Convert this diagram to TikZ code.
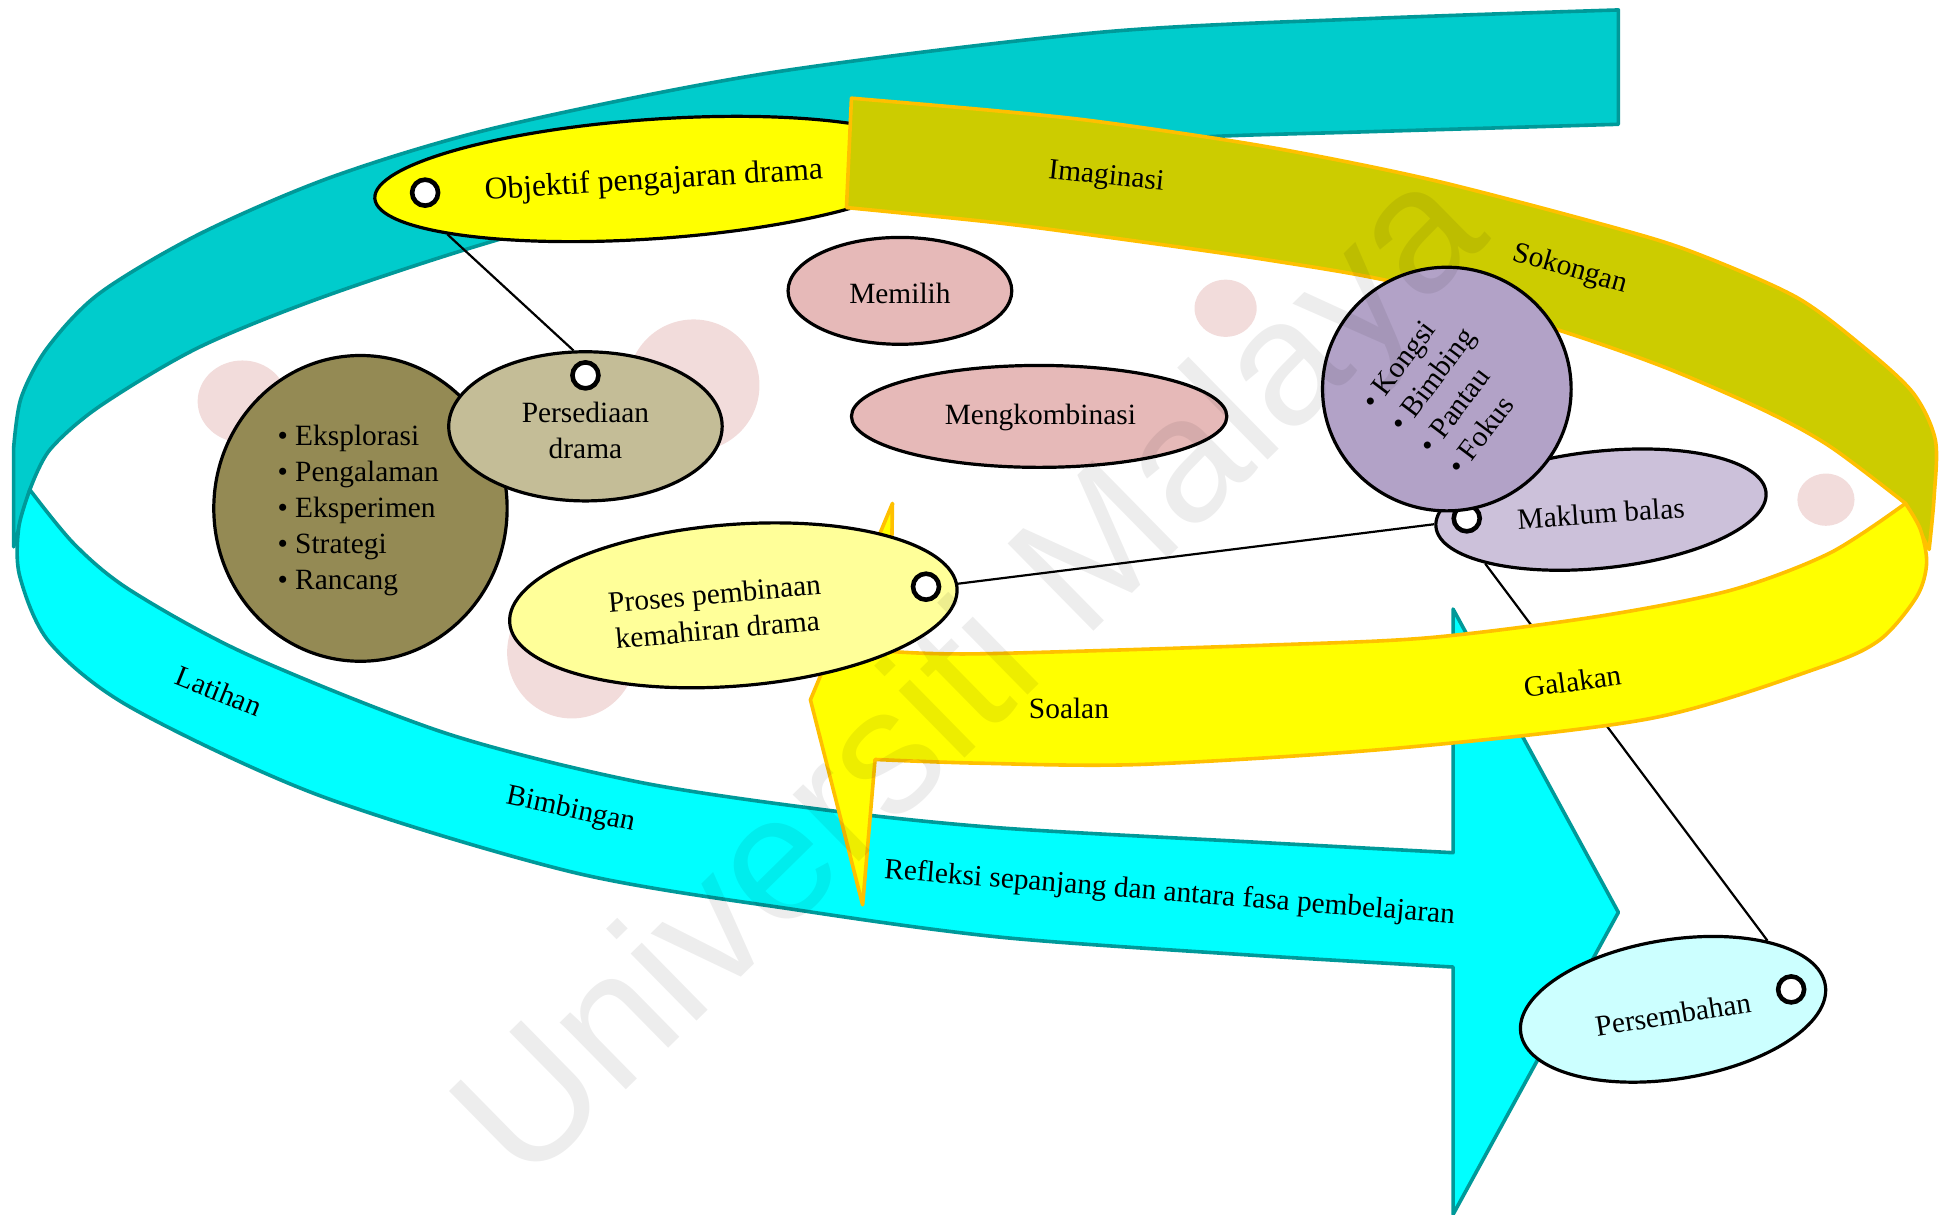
\documentclass[tikz,border=0pt]{standalone}
\usepackage{fontspec}
\setmainfont{Liberation Serif}
\newfontfamily\markfont{Liberation Sans}
\usetikzlibrary{shapes.geometric}

\pgfdeclarelayer{rear}
\pgfdeclarelayer{wires}
\pgfsetlayers{rear,wires,main}

\definecolor{tealband}{HTML}{00CCCC}
\definecolor{tealedge}{HTML}{009999}
\definecolor{cyanband}{HTML}{00FFFF}
\definecolor{oliveband}{HTML}{CCCC00}
\definecolor{yellowband}{HTML}{FFFF00}
\definecolor{bandedge}{HTML}{FFC000}
\definecolor{goalfill}{HTML}{FFFF00}
\definecolor{prepfill}{HTML}{C4BD97}
\definecolor{listfill}{HTML}{948A54}
\definecolor{pinkfill}{HTML}{E6B9B8}
\definecolor{purplefill}{HTML}{B2A2C7}
\definecolor{lilacfill}{HTML}{CCC1DA}
\definecolor{procfill}{HTML}{FFFF99}
\definecolor{showfill}{HTML}{CCFFFF}
\definecolor{logopink}{HTML}{F2DCDB}

\tikzset{
  oval/.style={ellipse, draw=black, line width=1.6pt, inner sep=0pt},
  osize/.style 2 args={minimum width={#1*0.6215pt}, minimum height={#2*0.6215pt}},
  ring/.style={circle, draw=black, fill=white, line width=2.3pt, inner sep=0pt, minimum size=13pt},
  word/.style={inner sep=0pt, font=\fontsize{14.7}{18}\selectfont},
  link/.style={draw=black, line width=1.1pt},
  spot/.style={ellipse, fill=logopink, inner sep=0pt},
  band/.style={line width=1.8pt, line join=round},
}

\begin{document}
\begin{tikzpicture}[x=0.6215pt, y=-0.6215pt]
\useasboundingbox (0,0) rectangle (1568,977);

\begin{pgfonlayer}{rear}
% faint logo spots
\node[spot, osize={72}{66}] (s1) at (195,323) {};
\node[spot, osize={106}{106}] (s2) at (558,310) {};
\node[spot, osize={104}{106}] (s3) at (460,525) {};
\node[spot, osize={50}{46}] (s4) at (986,248) {};
\node[spot, osize={46}{42}] (s5) at (1469,402) {};

% back ribbon
\draw[band, draw=tealedge, fill=tealband] (1302,8)
  -- plot[smooth] coordinates {(1302,8) (1100,15) (885,26) (617,59) (402,102) (268,142) (161,188) (80,236) (38,280) (17,320) (11,360)}
  -- (11,440) -- (24,394)
  -- plot[smooth] coordinates {(24,394) (40,362) (80,327) (161,279) (268,236) (418,188) (560,158) (700,135) (850,118) (971,110) (1100,106) (1302,100)}
  -- cycle;

\node[oval, fill=goalfill, osize={450}{96}, rotate=4] (goal) at (526,144) {};
\node[word, font=\fontsize{15.8}{19}\selectfont, rotate=3.5] (goaltxt) at (526,146) {Objektif pengajaran drama};
\node[ring] (mk1) at (342,155) {};

% olive ribbon
\draw[band, draw=bandedge, fill=oliveband] (685,79)
  -- plot[smooth] coordinates {(685,79) (800,89) (885,98) (1019,118) (1153,145) (1302,184) (1365,204) (1445,239) (1499,279) (1539,316) (1557,354) (1556,400) (1552,442)}
  -- (1533,405)
  -- plot[smooth] coordinates {(1533,405) (1472,359) (1419,330) (1338,295) (1249,264) (1126,228) (1019,209) (885,190) (800,179) (681,167)}
  -- cycle;
\end{pgfonlayer}

% ideas
\node[oval, fill=pinkfill, osize={180}{86}] (pick) at (724,234) {};
\node[oval, fill=pinkfill, osize={302}{82}] (mix) at (836,335) {};
\node[oval, fill=listfill, osize={236}{246}] (acts) at (290,409) {};
\node[oval, fill=prepfill, osize={220}{120}] (prep) at (471,343) {};
\node[ring] (mk2) at (471,302) {};

% front ribbon with arrow
\draw[band, draw=tealedge, fill=cyanband] (24,394)
  -- plot[smooth] coordinates {(24,394) (15,425) (16,464) (40,517) (105,569) (257,640) (462,702) (641,732) (805,754) (1000,768) (1169,778)}
  -- (1169,977) -- (1302,734) -- (1169,490) -- (1169,686)
  -- plot[smooth] coordinates {(1169,686) (1000,677) (804,666) (667,652) (513,629) (359,590) (200,527) (105,475) (60,438) (24,394)}
  -- cycle;

% yellow ribbon with arrow
\draw[band, draw=bandedge, fill=yellowband] (1533,405)
  -- plot[smooth] coordinates {(1533,405) (1545,426) (1550,453) (1542,480) (1512,515) (1464,537) (1328,578) (1123,602) (918,615) (788,614) (704,611)}
  -- (694,728) -- (652,563) -- (718,405) -- (716,524)
  -- plot[smooth] coordinates {(716,524) (788,526) (1020,519) (1150,513) (1285,496) (1392,475) (1472,445) (1533,405)}
  -- cycle;

\node[oval, fill=procfill, osize={361}{130}, rotate=4.5] (proc) at (590,487) {};
\node[ring] (mk3) at (745,472) {};

\node[oval, fill=lilacfill, osize={267}{94}, rotate=6] (fb) at (1288,410) {};
\node[ring] (mk4) at (1180,417) {};
\node[oval, fill=purplefill, osize={200}{196}] (coach) at (1164,313) {};

\node[oval, fill=showfill, osize={248}{112}, rotate=9] (show) at (1346,812) {};
\node[ring] (mk5) at (1441,796) {};

% connectors
\begin{pgfonlayer}{wires}
\draw[link] (goal.191) -- (prep.99);
\draw[link] (proc.1) -- (fb.179);
\draw[link] (fb.199) -- (show.27);
\end{pgfonlayer}

% texts
\node[word] (picktxt) at (724,236) {Memilih};
\node[word] (mixtxt) at (837,336) {Mengkombinasi};
\node[word, align=left, anchor=west] (actstxt) at (223,411) {\textbullet\ Eksplorasi\\\textbullet\ Pengalaman\\\textbullet\ Eksperimen\\\textbullet\ Strategi\\\textbullet\ Rancang};
\node[word, align=center] (preptxt) at (471,346) {Persediaan\\drama};
\node[word, align=center, rotate=5] (proctxt) at (576,492) {Proses pembinaan\\kemahiran drama};
\node[word, rotate=4] (fbtxt) at (1288,413) {Maklum balas};
\node[word, align=left, rotate=53] (coachtxt) at (1164,314) {\textbullet\ Kongsi\\\textbullet\ Bimbing\\\textbullet\ Pantau\\\textbullet\ Fokus};
\node[word, rotate=9] (showtxt) at (1346,816) {Persembahan};

\node[word, rotate=-6] (imag) at (890,143) {Imaginasi};
\node[word, rotate=-16] (supp) at (1263,217) {Sokongan};
\node[word, rotate=-22] (drill) at (176,556) {Latihan};
\node[word, rotate=-12] (guide) at (459,652) {Bimbingan};
\node[word, rotate=-4.5] (refl) at (941,719) {Refleksi sepanjang dan antara fasa pembelajaran};
\node[word] (ask) at (860,570) {Soalan};
\node[word, rotate=8] (urge) at (1265,548) {Galakan};

% watermark
\node[rotate=44.5, font=\markfont\fontsize{89}{89}\selectfont, text=black, text opacity=0.07, inner sep=0pt] (wm) at (786,548) {Universiti Malaya};
\end{tikzpicture}
\end{document}
